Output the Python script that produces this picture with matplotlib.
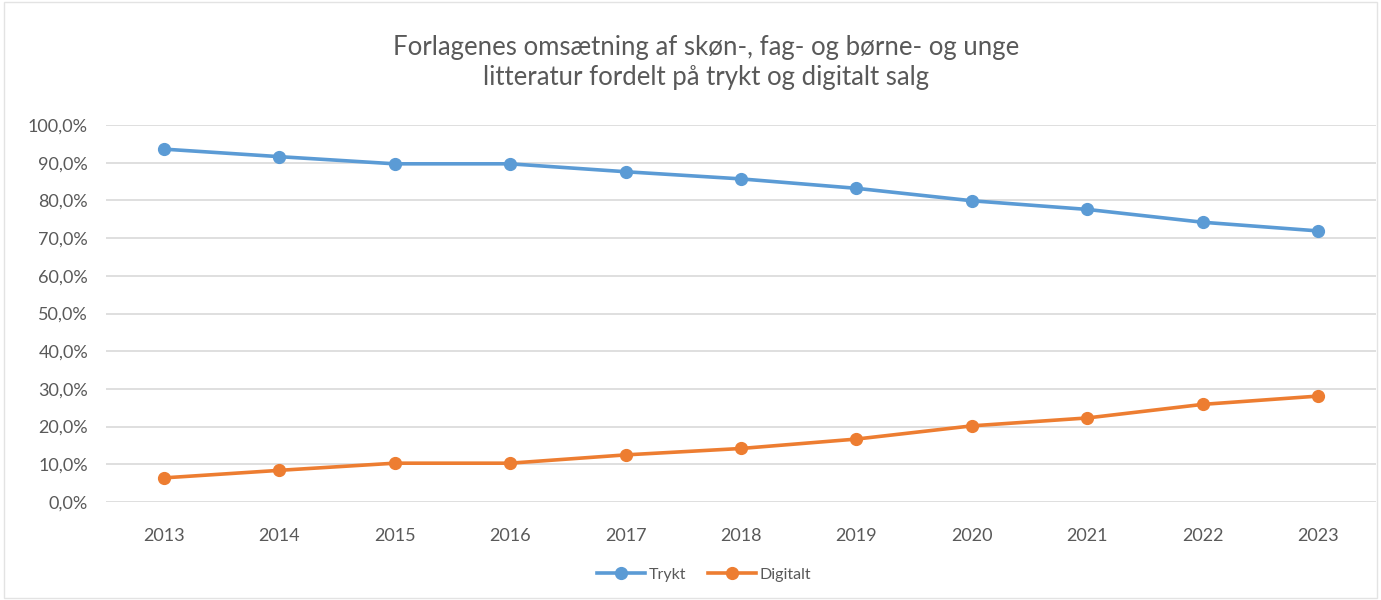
import matplotlib
matplotlib.use("Agg")
import matplotlib.pyplot as plt
from matplotlib.ticker import FuncFormatter, MultipleLocator
from matplotlib.patches import Rectangle

years = [2013, 2014, 2015, 2016, 2017, 2018, 2019, 2020, 2021, 2022, 2023]
trykt = [93.6, 91.6, 89.7, 89.7, 87.6, 85.7, 83.2, 79.9, 77.6, 74.2, 71.9]
digitalt = [6.4, 8.4, 10.3, 10.3, 12.5, 14.2, 16.7, 20.2, 22.3, 25.9, 28.1]
title = "Forlagenes omsætning af skøn-, fag- og børne- og unge\nlitteratur fordelt på trykt og digitalt salg"

plt.rcParams["font.family"] = ["Lato", "DejaVu Sans"]
txt = "#595959"

fig = plt.figure(figsize=(13.81, 6), dpi=100)
ax = fig.add_axes([0.0768, 0.1633, 0.9196, 0.6284])

x = list(range(len(years)))
ax.plot(x, trykt, "-o", color="#5B9BD5", lw=2.6, ms=8.5, label="Trykt")
ax.plot(x, digitalt, "-o", color="#ED7D31", lw=2.6, ms=8.5, label="Digitalt")

ax.set_xlim(-0.5, len(years) - 0.5)
ax.set_ylim(0, 100)
ax.yaxis.set_major_locator(MultipleLocator(10))
ax.yaxis.set_major_formatter(FuncFormatter(lambda v, p: f"{v:.1f}%".replace(".", ",")))
ax.set_xticks(x)
ax.set_xticklabels([str(y) for y in years])
ax.tick_params(axis="both", length=0, labelsize=13, colors=txt)
ax.tick_params(axis="x", pad=19)
ax.tick_params(axis="y", pad=13)
ax.grid(axis="y", color="#D9D9D9", lw=1.2)
ax.set_axisbelow(True)
for s in ax.spines.values():
    s.set_visible(False)

fig.text(0.511, 0.895, title, ha="center", va="center", fontsize=18.5, color=txt,
         linespacing=1.25)

fig.legend(loc="center", bbox_to_anchor=(0.51, 0.042), ncol=2, frameon=False,
           fontsize=11.5, labelcolor=txt, handlelength=3.0, columnspacing=1.4,
           handletextpad=0.2)

fig.patches.append(Rectangle((0.003, 0.003), 0.994, 0.994, transform=fig.transFigure,
                             fill=False, edgecolor="#E3E3E3", lw=1))

fig.savefig("out.png", dpi=100)
